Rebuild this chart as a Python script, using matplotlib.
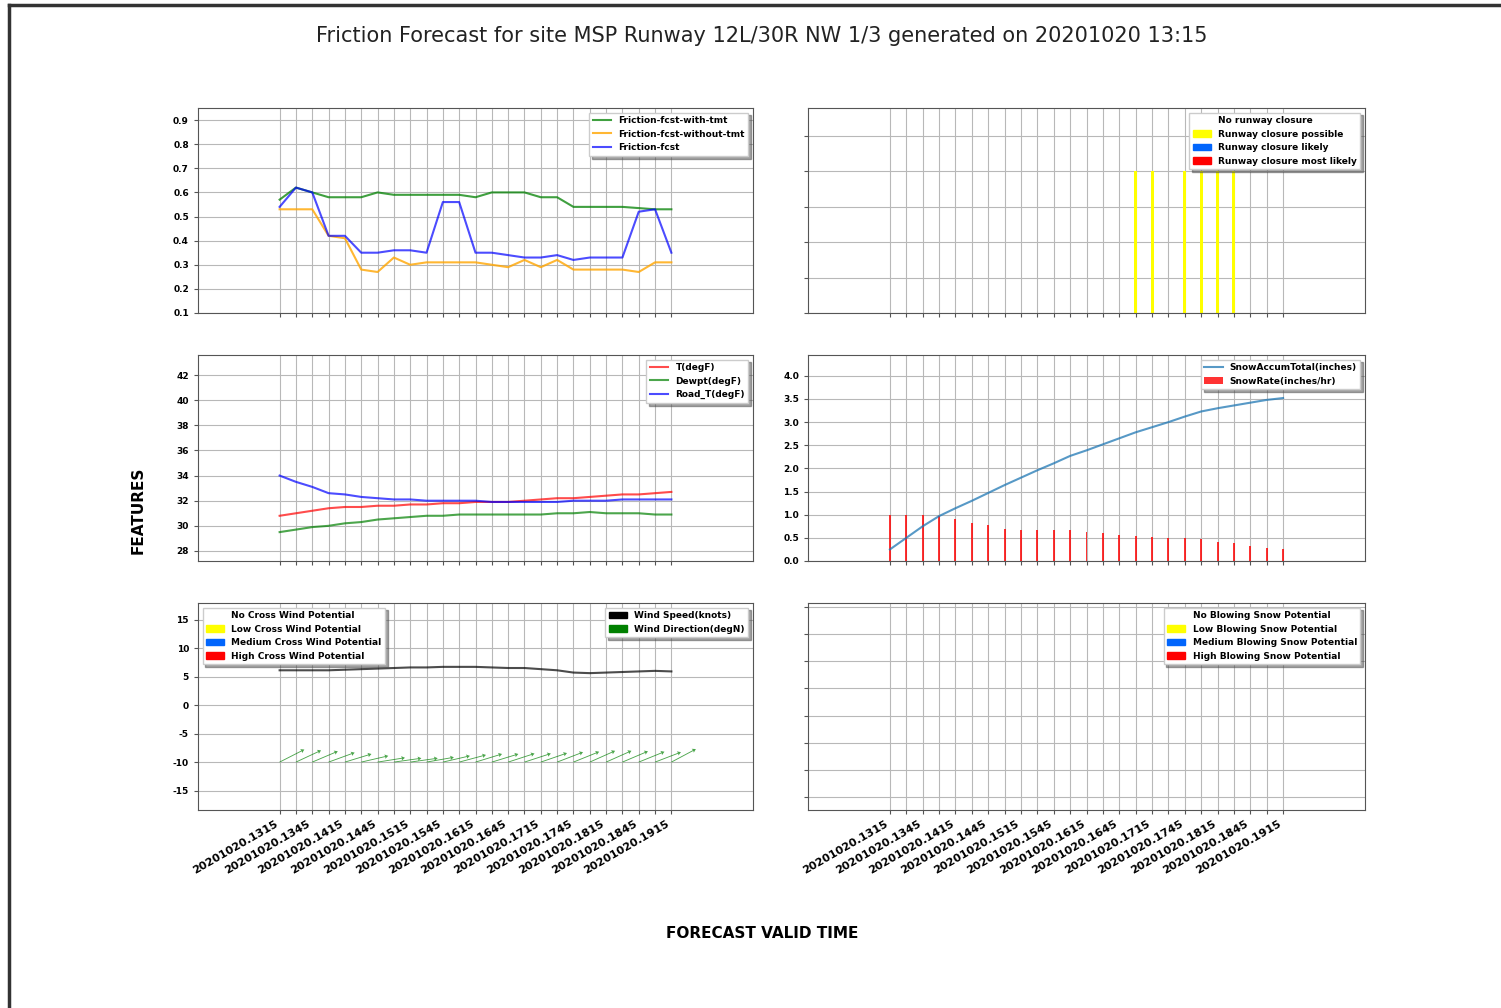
import numpy as np
import matplotlib
matplotlib.use("Agg")
import matplotlib.pyplot as plt
from matplotlib.patches import Patch
from matplotlib.lines import Line2D

# ---------------- data ----------------
times = ["20201020.%s" % t for t in [
    "1315", "1330", "1345", "1400", "1415", "1430", "1445", "1500", "1515",
    "1530", "1545", "1600", "1615", "1630", "1645", "1700", "1715", "1730",
    "1745", "1800", "1815", "1830", "1845", "1900", "1915"]]

fric_with_tmt = [0.57, 0.62, 0.60, 0.58, 0.58, 0.58, 0.60, 0.59, 0.59, 0.59,
                 0.59, 0.59, 0.58, 0.60, 0.60, 0.60, 0.58, 0.58, 0.54, 0.54,
                 0.54, 0.54, 0.535, 0.53, 0.53]
fric_without_tmt = [0.53, 0.53, 0.53, 0.42, 0.41, 0.28, 0.27, 0.33, 0.30, 0.31,
                    0.31, 0.31, 0.31, 0.30, 0.29, 0.32, 0.29, 0.32, 0.28, 0.28,
                    0.28, 0.28, 0.27, 0.31, 0.31]
fric_fcst = [0.54, 0.62, 0.60, 0.42, 0.42, 0.35, 0.35, 0.36, 0.36, 0.35,
             0.56, 0.56, 0.35, 0.35, 0.34, 0.33, 0.33, 0.34, 0.32, 0.33,
             0.33, 0.33, 0.52, 0.53, 0.35]

closure_height = [0, 0, 0, 0, 0, 0, 0, 0, 0, 0, 0, 0, 0, 0, 0,
                  0.8, 0.8, 0, 0.8, 0.8, 0.8, 0.8, 0, 0, 0]

temp_f = [30.8, 31.0, 31.2, 31.4, 31.5, 31.5, 31.6, 31.6, 31.7, 31.7,
          31.8, 31.8, 31.9, 31.9, 31.9, 32.0, 32.1, 32.2, 32.2, 32.3,
          32.4, 32.5, 32.5, 32.6, 32.7]
dewpt_f = [29.5, 29.7, 29.9, 30.0, 30.2, 30.3, 30.5, 30.6, 30.7, 30.8,
           30.8, 30.9, 30.9, 30.9, 30.9, 30.9, 30.9, 31.0, 31.0, 31.1,
           31.0, 31.0, 31.0, 30.9, 30.9]
road_t_f = [34.0, 33.5, 33.1, 32.6, 32.5, 32.3, 32.2, 32.1, 32.1, 32.0,
            32.0, 32.0, 32.0, 31.9, 31.9, 31.9, 31.9, 31.9, 32.0, 32.0,
            32.0, 32.1, 32.1, 32.1, 32.1]

snow_accum = [0.25, 0.50, 0.75, 0.97, 1.14, 1.30, 1.47, 1.64, 1.80, 1.96,
              2.11, 2.27, 2.39, 2.52, 2.65, 2.78, 2.89, 3.00, 3.12, 3.23,
              3.30, 3.36, 3.42, 3.48, 3.52]
snow_rate = [1.0, 1.0, 1.0, 0.97, 0.90, 0.82, 0.77, 0.70, 0.68, 0.68,
             0.67, 0.67, 0.62, 0.60, 0.57, 0.53, 0.52, 0.50, 0.50, 0.47,
             0.42, 0.38, 0.33, 0.28, 0.25]

wind_speed = [6.1, 6.1, 6.1, 6.1, 6.2, 6.3, 6.4, 6.5, 6.6, 6.6,
              6.7, 6.7, 6.7, 6.6, 6.5, 6.5, 6.3, 6.1, 5.7, 5.6,
              5.7, 5.8, 5.9, 6.0, 5.9]
wind_dir = [243, 245, 247, 250, 253, 257, 261, 262, 262, 260,
            257, 255, 253, 253, 252, 252, 251, 249, 248, 246,
            246, 247, 248, 249, 242]

# ---------------- figure ----------------
BOLD = {"weight": "bold", "size": 6.5}
fig = plt.figure(figsize=(15.01, 10.08), dpi=100)
fig.patch.set_facecolor("white")

x = np.arange(len(times))
xlabels = [t if i % 2 == 0 else "" for i, t in enumerate(times)]

lefts = [198 / 1501, 808 / 1501]
widths = [555 / 1501, 557 / 1501]
rows = [(108, 313), (355, 561), (603, 810)]

axes = {}
for r, (top, bot) in enumerate(rows):
    for c in range(2):
        ax = fig.add_axes([lefts[c], 1 - bot / 1008, widths[c], (bot - top) / 1008])
        axes[(r, c)] = ax
        ax.set_xlim(-5, 29)
        ax.set_xticks(x)
        ax.grid(True, color="#b8b8b8", linewidth=0.8)
        ax.set_axisbelow(True)
        for s in ax.spines.values():
            s.set_color("#555555")
        ax.tick_params(axis="both", labelsize=6.5, length=3, color="#555555")
        if r < 2:
            ax.set_xticklabels([])
        else:
            ax.set_xticklabels(xlabels, rotation=30, ha="right",
                               fontsize=8, fontweight="bold")

def boldy(ax):
    for lab in ax.get_yticklabels():
        lab.set_fontweight("bold")

# Top-left: friction
ax = axes[(0, 0)]
ax.plot(x, fric_with_tmt, color="green", alpha=0.75, lw=1.5, label="Friction-fcst-with-tmt")
ax.plot(x, fric_without_tmt, color="orange", alpha=0.8, lw=1.5, label="Friction-fcst-without-tmt")
ax.plot(x, fric_fcst, color="blue", alpha=0.7, lw=1.5, label="Friction-fcst")
ax.set_ylim(0.1, 0.95)
ax.set_yticks(np.arange(0.1, 0.91, 0.1))
ax.set_yticklabels(["%.1f" % v for v in np.arange(0.1, 0.91, 0.1)])
boldy(ax)
ax.legend(loc="upper right", prop=BOLD, shadow=True, fancybox=False)

# Top-right: closure
ax = axes[(0, 1)]
ax.bar(x, closure_height, width=0.18, color="yellow")
ax.set_ylim(0, 1.155)
ax.set_yticks(np.arange(0, 1.01, 0.2))
ax.set_yticklabels([])
h = [Patch(color="white", label="No runway closure"),
     Patch(color="yellow", label="Runway closure possible"),
     Patch(color="#0165fc", label="Runway closure likely"),
     Patch(color="red", label="Runway closure most likely")]
ax.legend(handles=h, loc="upper right", prop=BOLD, shadow=True, fancybox=False)

# Middle-left: temperatures
ax = axes[(1, 0)]
ax.plot(x, temp_f, color="red", alpha=0.7, lw=1.5, label="T(degF)")
ax.plot(x, dewpt_f, color="green", alpha=0.7, lw=1.5, label="Dewpt(degF)")
ax.plot(x, road_t_f, color="blue", alpha=0.7, lw=1.5, label="Road_T(degF)")
ax.set_ylim(27.2, 43.6)
ax.set_yticks(np.arange(28, 43, 2))
ax.set_yticklabels([str(v) for v in range(28, 43, 2)])
boldy(ax)
ax.legend(loc="upper right", prop=BOLD, shadow=True, fancybox=False)

# Middle-right: snow
ax = axes[(1, 1)]
ax.plot(x, snow_accum, color="tab:blue", alpha=0.75, lw=1.5, label="SnowAccumTotal(inches)")
ax.bar(x, snow_rate, width=0.12, color="red", alpha=0.8, label="SnowRate(inches/hr)")
ax.set_ylim(0, 4.45)
ax.set_yticks(np.arange(0, 4.01, 0.5))
ax.set_yticklabels(["%.1f" % v for v in np.arange(0, 4.01, 0.5)])
boldy(ax)
ax.legend(loc="upper right", prop=BOLD, shadow=True, fancybox=False)

# Bottom-left: wind
ax = axes[(2, 0)]
ax.plot(x, wind_speed, color="black", alpha=0.7, lw=1.5)
ang = np.radians(90 - (np.array(wind_dir) - 180))
u = np.cos(ang)
v = np.sin(ang)
ax.quiver(x, np.full(len(x), -10.0), u, v, angles="uv", scale_units="x",
          scale=1 / 1.7, color="green", alpha=0.7, width=0.0016,
          headwidth=5, headlength=4, headaxislength=3.5)
ax.set_ylim(-18.4, 17.9)
ax.set_yticks(np.arange(-15, 16, 5))
ax.set_yticklabels([str(v) for v in range(-15, 16, 5)])
boldy(ax)
h1 = [Patch(color="white", label="No Cross Wind Potential"),
      Patch(color="yellow", label="Low Cross Wind Potential"),
      Patch(color="#0165fc", label="Medium Cross Wind Potential"),
      Patch(color="red", label="High Cross Wind Potential")]
leg1 = ax.legend(handles=h1, loc="upper left", prop=BOLD, shadow=True, fancybox=False)
ax.add_artist(leg1)
h2 = [Patch(color="black", label="Wind Speed(knots)"),
      Patch(color="green", label="Wind Direction(degN)")]
ax.legend(handles=h2, loc="upper right", prop=BOLD, shadow=True, fancybox=False)

# Bottom-right: blowing snow
ax = axes[(2, 1)]
ax.set_ylim(-0.48, 7.15)
ax.set_yticks(np.arange(0, 8))
ax.set_yticklabels([])
h = [Patch(color="white", label="No Blowing Snow Potential"),
     Patch(color="yellow", label="Low Blowing Snow Potential"),
     Patch(color="#0165fc", label="Medium Blowing Snow Potential"),
     Patch(color="red", label="High Blowing Snow Potential")]
ax.legend(handles=h, loc="upper right", prop=BOLD, shadow=True, fancybox=False)

# Titles and labels
fig.text(762 / 1501, 1 - 36 / 1008,
         "Friction Forecast for site MSP Runway 12L/30R NW 1/3 generated on 20201020 13:15",
         ha="center", va="center", fontsize=15, color="#222222")
fig.text(138 / 1501, 1 - 510 / 1008, "FEATURES", rotation=90, ha="center",
         va="center", fontsize=11, fontweight="bold")
fig.text(762 / 1501, 1 - 934 / 1008, "FORECAST VALID TIME", ha="center",
         va="center", fontsize=11, fontweight="bold")

# screenshot frame (top and left edges)
fig.add_artist(Line2D([9 / 1501, 1], [1 - 5 / 1008, 1 - 5 / 1008],
                      transform=fig.transFigure, color="#333333", lw=2.5))
fig.add_artist(Line2D([9 / 1501, 9 / 1501], [0, 1 - 5 / 1008],
                      transform=fig.transFigure, color="#333333", lw=2.5))

fig.savefig("out.png", dpi=100)
